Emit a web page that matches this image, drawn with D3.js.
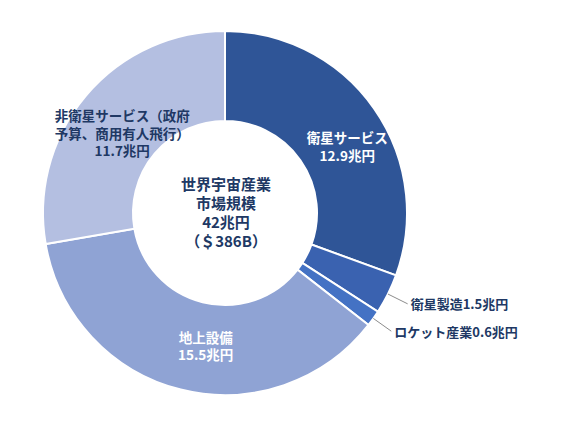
<!DOCTYPE html>
<html>
<head>
<meta charset="utf-8">
<script src="https://cdn.jsdelivr.net/npm/d3@7"></script>
<style>
  body { margin: 0; background: #fff; }
  svg text { font-family: "Noto Sans CJK JP", "Noto Sans", sans-serif; }
</style>
</head>
<body>
<svg id="chart"></svg>
<script>
// slices, clockwise from 12 o'clock
const categories = ["衛星サービス", "衛星製造", "ロケット産業", "地上設備", "非衛星サービス（政府予算、商用有人飛行）"]
const values = [12.9, 1.5, 0.6, 15.5, 11.7]
const colors = ["#2f5597", "#3a62b0", "#4472c4", "#8fa3d4", "#b4bfe1"]
const labelLines = [
    ["衛星サービス", "12.9兆円"],
    ["衛星製造1.5兆円"],
    ["ロケット産業0.6兆円"],
    ["地上設備", "15.5兆円"],
    ["非衛星サービス（政府", "予算、商用有人飛行）", "11.7兆円"]
]
const centerLines = ["世界宇宙産業", "市場規模", "42兆円", "（＄386B）"]

const w = 563
const h = 423
const cx = 225
const cy = 213
const outerR = 182
const innerR = 92

const svg = d3.select("#chart")
    .attr("width", w)
    .attr("height", h)

const pie = d3.pie().sort(null).value(d => d)
const arcs = pie(values)

const arc = d3.arc().innerRadius(innerR).outerRadius(outerR)
const labelArc = d3.arc().innerRadius(137).outerRadius(137)

const g = svg.append("g").attr("transform", `translate(${cx}, ${cy})`)

g.selectAll("path.slice")
    .data(arcs)
    .enter()
    .append("path")
    .attr("class", "slice")
    .attr("d", arc)
    .attr("fill", (d, i) => colors[i])
    .attr("stroke", "#fff")
    .attr("stroke-width", 2)

// small nudges like excel's best fit placement
const nudge = [[10, 13], null, null, [14, 1], [2, 9]]
const inside = [0, 3, 4]
const lineH = 17.5

inside.forEach(i => {
    const [x, y] = labelArc.centroid(arcs[i])
    const lines = labelLines[i]
    const t = g.append("text")
        .attr("text-anchor", "middle")
        .attr("font-size", 13.5)
        .attr("font-weight", "bold")
        .attr("fill", i === 4 ? "#203864" : "#fff")
    lines.forEach((s, k) => {
        t.append("tspan")
            .attr("x", x + nudge[i][0])
            .attr("y", y + nudge[i][1] + (k - (lines.length - 1) / 2) * lineH)
            .attr("dy", "0.35em")
            .text(s)
    })
})

// outside labels with leader lines
const outside = [1, 2]
outside.forEach(i => {
    const a = (arcs[i].startAngle + arcs[i].endAngle) / 2
    const p0 = [outerR * Math.sin(a), -outerR * Math.cos(a)]
    const r1 = outerR + 22
    const p1 = [r1 * Math.sin(a), -r1 * Math.cos(a)]
    g.append("line")
        .attr("x1", p0[0]).attr("y1", p0[1])
        .attr("x2", p1[0]).attr("y2", p1[1])
        .attr("stroke", "#8c8c8c")
        .attr("stroke-width", 1)
    g.append("text")
        .attr("x", p1[0] + 3)
        .attr("y", p1[1] + 1)
        .attr("dy", "0.35em")
        .attr("font-size", 13)
        .attr("font-weight", "bold")
        .attr("fill", "#203864")
        .text(labelLines[i][0])
})

// center text
const ct = g.append("text")
    .attr("text-anchor", "middle")
    .attr("font-size", 15)
    .attr("font-weight", "bold")
    .attr("fill", "#203864")
centerLines.forEach((s, k) => {
    ct.append("tspan")
        .attr("x", 1)
        .attr("y", -28 + k * 19)
        .attr("dy", "0.35em")
        .text(s)
})
</script>
</body>
</html>
